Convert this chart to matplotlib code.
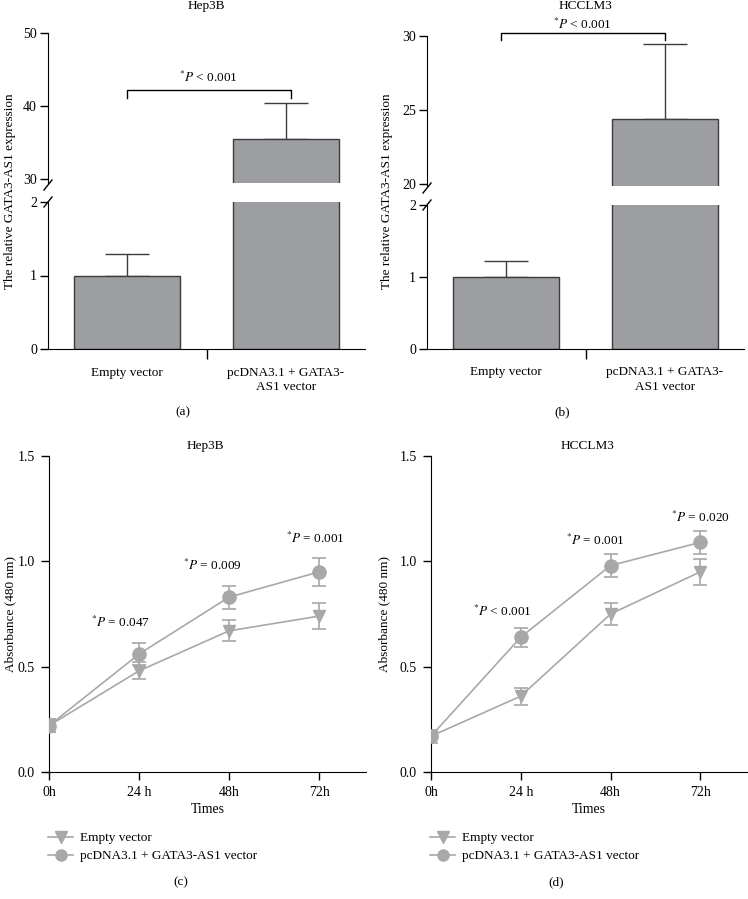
import matplotlib
matplotlib.use("Agg")
import matplotlib.pyplot as plt
import numpy as np
from matplotlib.lines import Line2D

plt.rcParams['font.family'] = ['Liberation Serif', 'DejaVu Serif']
plt.rcParams['mathtext.fontset'] = 'stix'

W, H = 748, 899
fig = plt.figure(figsize=(W / 100, H / 100), dpi=100)

def rect(l, t, r, b):
    return [l / W, 1 - b / H, (r - l) / W, (b - t) / H]

def fx(px):
    return px / W

def fy(py):
    return 1 - py / H

# ---------------- data ----------------
bar_categories = ["Empty vector", "pcDNA3.1 + GATA3-\nAS1 vector"]
hep3b_bar_means = [1.0, 35.5]
hep3b_bar_err = [0.29, 4.9]
hcclm3_bar_means = [1.0, 24.4]
hcclm3_bar_err = [0.22, 5.05]

times = [0, 24, 48, 72]
time_labels = ["0h", "24 h", "48h", "72h"]

hep3b_empty = [0.22, 0.48, 0.67, 0.74]
hep3b_empty_err = [0.03, 0.04, 0.05, 0.06]
hep3b_gata = [0.22, 0.56, 0.83, 0.95]
hep3b_gata_err = [0.03, 0.05, 0.055, 0.065]
hep3b_pvals = ["0.047", "0.009", "0.001"]
hep3b_pval_ops = ["=", "=", "="]

hcclm3_empty = [0.17, 0.36, 0.75, 0.95]
hcclm3_empty_err = [0.03, 0.04, 0.05, 0.06]
hcclm3_gata = [0.17, 0.64, 0.98, 1.09]
hcclm3_gata_err = [0.02, 0.045, 0.055, 0.055]
hcclm3_pvals = ["0.001", "0.001", "0.020"]
hcclm3_pval_ops = ["<", "=", "="]

legend_labels = ["Empty vector", "pcDNA3.1 + GATA3-AS1 vector"]

BAR_COLOR = "#9d9ea2"
BAR_EDGE = "#3c3c3c"
LINE_COLOR = "#a8a8a8"
FS = 9.5
TFS = 10

# ---------------- bar panels ----------------
def bar_panel(xoff, upper_lim, upper_ticks, upper_top, upper_bot, lower_top,
              means, errs, title, title_y, ylab_x, bracket, ptext_y, panel_label):
    ax_up = fig.add_axes(rect(xoff + 48, upper_top, xoff + 365, upper_bot))
    ax_lo = fig.add_axes(rect(xoff + 48, lower_top, xoff + 365, 349))
    x = np.arange(len(means))
    for ax in (ax_up, ax_lo):
        ax.bar(x, means, width=0.67, color=BAR_COLOR, edgecolor=BAR_EDGE, linewidth=1.0, zorder=2)
        ax.errorbar(x, means, yerr=[np.zeros(len(errs)), errs], fmt='none', ecolor=BAR_EDGE,
                    elinewidth=1.0, capsize=16, capthick=1.0, zorder=1)
        ax.set_xlim(-0.5, 1.5)
        ax.spines['top'].set_visible(False)
        ax.spines['right'].set_visible(False)
        ax.tick_params(axis='y', length=6, width=1, labelsize=TFS, pad=2)
    ax_up.set_ylim(*upper_lim)
    ax_up.set_yticks(upper_ticks)
    ax_up.spines['bottom'].set_visible(False)
    ax_up.set_xticks([])
    ax_lo.set_ylim(0, 2)
    ax_lo.set_yticks([0, 1, 2])
    ax_lo.set_xticks([0.5])
    ax_lo.set_xticklabels([""])
    ax_lo.tick_params(axis='x', length=7, width=1)
    for xi, cat in zip(x, bar_categories):
        ax_lo.text(xi, -0.12, cat, ha='center', va='top', fontsize=FS, linespacing=1.25,
                   transform=ax_lo.get_xaxis_transform(), clip_on=False)
    # bracket
    b_lo, b_hi, bx0, bx1 = bracket
    ax_up.plot([bx0, bx0, bx1, bx1], [b_lo, b_hi, b_hi, b_lo], color='black', lw=1.0,
               clip_on=False)
    ax_up.text((bx0 + bx1) / 2, ptext_y, r"$^{*}\mathit{P}$ < 0.001", ha='center', va='center',
               fontsize=FS, clip_on=False)
    # break marks
    for yc in (upper_bot + 2, lower_top):
        fig.add_artist(Line2D([fx(xoff + 44), fx(xoff + 52)], [fy(yc + 5), fy(yc - 5)],
                              color='black', lw=1.0))
    fig.text(fx(xoff + 206), fy(title_y), title, ha='center', va='center', fontsize=FS)
    fig.text(fx(ylab_x), fy(191), "The relative GATA3-AS1 expression", rotation=90,
             ha='center', va='center', fontsize=FS)
    fig.text(fx(xoff + 183), fy(412), panel_label, ha='center', va='center', fontsize=FS)

bar_panel(0, (29.45, 50), [30, 40, 50], 33, 183, 202, hep3b_bar_means, hep3b_bar_err,
          "Hep3B", 6, 10, (41.1, 42.2, 0.0, 1.03), 43.9, "(a)")
bar_panel(379, (19.86, 30), [20, 25, 30], 36, 186, 205, hcclm3_bar_means, hcclm3_bar_err,
          "HCCLM3", 6, 387, (29.7, 30.2, -0.035, 1.0), 30.8, "(b)")

# ---------------- line panels ----------------
def line_panel(left, right, empty, empty_err, gata, gata_err, pvals, ops, pos, title,
               ylab_x, panel_label):
    ax = fig.add_axes(rect(left, 456, right, 772))
    ax.errorbar(times, empty, yerr=empty_err, color=LINE_COLOR, marker='v', markersize=9,
                lw=1.2, elinewidth=1.2, capsize=5, capthick=1.2, zorder=2)
    ax.errorbar(times, gata, yerr=gata_err, color=LINE_COLOR, marker='o', markersize=9.5,
                lw=1.2, elinewidth=1.2, capsize=5, capthick=1.2, zorder=3)
    ax.set_xlim(0, 84.5)
    ax.set_ylim(0, 1.5)
    ax.set_xticks(times)
    ax.set_xticklabels(time_labels, fontsize=TFS)
    ax.set_yticks([0.0, 0.5, 1.0, 1.5])
    ax.set_yticklabels(["0.0", "0.5", "1.0", "1.5"], fontsize=TFS)
    ax.tick_params(length=6, width=1, pad=4)
    ax.spines['top'].set_visible(False)
    ax.spines['right'].set_visible(False)
    ax.set_xlabel("Times", fontsize=TFS, labelpad=3)
    for (px, py), pv, op in zip(pos, pvals, ops):
        ax.text(px, py, r"$^{*}\mathit{P}$ " + op + " " + pv, ha='center', va='center',
                fontsize=FS)
    handles = [Line2D([], [], color=LINE_COLOR, marker='v', markersize=8, lw=1.2),
               Line2D([], [], color=LINE_COLOR, marker='o', markersize=8, lw=1.2)]
    ax.legend(handles, legend_labels, loc='upper left', bbox_to_anchor=(fx(left - 1), fy(832)),
              bbox_transform=fig.transFigure, frameon=False, fontsize=FS,
              handlelength=1.9, handletextpad=0.55, labelspacing=0.45,
              borderpad=0, borderaxespad=0)
    fig.text(fx((left + right) / 2 - 2), fy(446), title, ha='center', va='center', fontsize=FS)
    fig.text(fx(ylab_x), fy(614), "Absorbance (480 nm)", rotation=90, ha='center',
             va='center', fontsize=FS)
    fig.text(fx(panel_label[1]), fy(882), panel_label[0], ha='center', va='center', fontsize=FS)

line_panel(49, 366, hep3b_empty, hep3b_empty_err, hep3b_gata, hep3b_gata_err,
           hep3b_pvals, hep3b_pval_ops, [(19, 0.71), (43.5, 0.98), (71, 1.11)],
           "Hep3B", 10, ("(c)", 181))
line_panel(431, 747, hcclm3_empty, hcclm3_empty_err, hcclm3_gata, hcclm3_gata_err,
           hcclm3_pvals, hcclm3_pval_ops, [(19, 0.76), (44, 1.10), (72, 1.21)],
           "HCCLM3", 384, ("(d)", 556))

fig.savefig("out.png", dpi=100)
